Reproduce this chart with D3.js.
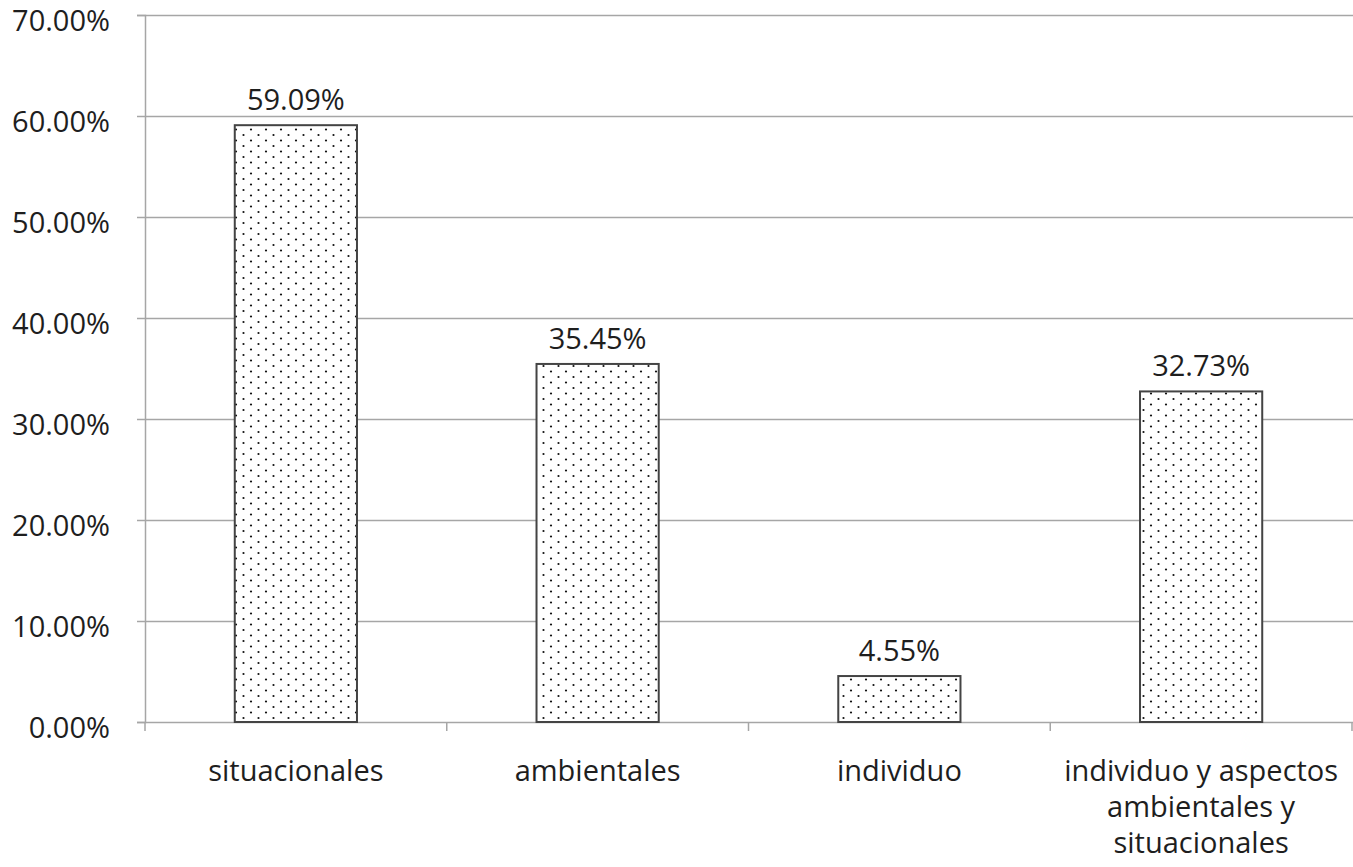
<!DOCTYPE html>
<html>
<head>
<meta charset="utf-8">
<script src="https://cdn.jsdelivr.net/npm/d3@7"></script>
<style>
  html, body { margin: 0; padding: 0; background: #fff; }
  svg text { font-family: "Open Sans", "Noto Sans", sans-serif; fill: #1e1e1e; }
</style>
</head>
<body>
<svg id="chart" width="1353" height="867"></svg>
<script>
// Category labels (line breaks mark wrapped labels)
const categories = ["situacionales", "ambientales", "individuo", "individuo y aspectos\nambientales y\nsituacionales"];
// Share of cases per category, in percent
const values = [59.09, 35.45, 4.55, 32.73];
// Y axis ticks, in percent
const yTicks = [0, 10, 20, 30, 40, 50, 60, 70];

const svg = d3.select("#chart");
const margin = { left: 145, right: 1, top: 15, bottom: 145 };
const W = 1353, H = 867;
const FONT = "29px";

const x = d3.scaleBand()
  .domain(categories)
  .range([margin.left, W - margin.right])
  .paddingInner(0.595)
  .paddingOuter(0.2975);

const y = d3.scaleLinear()
  .domain([0, 70])
  .range([H - margin.bottom, margin.top]);

// Dotted fill pattern for bars
const defs = svg.append("defs");
const pat = defs.append("pattern")
  .attr("id", "dots")
  .attr("patternUnits", "userSpaceOnUse")
  .attr("width", 15).attr("height", 11);
pat.append("rect").attr("width", 15).attr("height", 11).attr("fill", "#fff");
pat.append("circle").attr("cx", 3.5).attr("cy", 3).attr("r", 1.1).attr("fill", "#111");
pat.append("circle").attr("cx", 11).attr("cy", 8.5).attr("r", 1.1).attr("fill", "#111");

// Horizontal gridlines
svg.append("g")
  .selectAll("line")
  .data(yTicks.filter(d => d > 0))
  .join("line")
  .attr("x1", margin.left).attr("x2", W)
  .attr("y1", d => y(d) + 0.5).attr("y2", d => y(d) + 0.5)
  .attr("stroke", "#a6a6a6").attr("stroke-width", 1.5);

// Y axis
const yAxis = d3.axisLeft(y)
  .tickValues(yTicks)
  .tickSize(8)
  .tickPadding(27)
  .tickFormat(d => d.toFixed(2) + "%");
const gy = svg.append("g")
  .attr("transform", `translate(${margin.left},0)`)
  .call(yAxis);
gy.select(".domain").attr("stroke", "#a6a6a6").attr("stroke-width", 1.5);
gy.selectAll(".tick line").attr("stroke", "#a6a6a6").attr("stroke-width", 1.5);
gy.selectAll(".tick text")
  .attr("dy", "0.55em")
  .style("font-size", FONT)
  .style("font-family", "'Open Sans', 'Noto Sans', sans-serif")
  .attr("fill", "#1e1e1e");

// X axis baseline with ticks between categories
const bandEdges = categories.map(c => x(c) - (x.step() - x.bandwidth()) / 2);
bandEdges.push(W - margin.right);
svg.append("line")
  .attr("x1", margin.left).attr("x2", W)
  .attr("y1", y(0) + 0.5).attr("y2", y(0) + 0.5)
  .attr("stroke", "#a6a6a6").attr("stroke-width", 1.5);
svg.append("g")
  .selectAll("line")
  .data(bandEdges)
  .join("line")
  .attr("x1", d => d).attr("x2", d => d)
  .attr("y1", y(0)).attr("y2", y(0) + 9)
  .attr("stroke", "#a6a6a6").attr("stroke-width", 1.5);

// Bars
svg.append("g")
  .selectAll("rect")
  .data(categories)
  .join("rect")
  .attr("x", c => x(c))
  .attr("width", x.bandwidth())
  .attr("y", (c, i) => y(values[i]))
  .attr("height", (c, i) => y(0) - y(values[i]))
  .attr("fill", "url(#dots)")
  .attr("stroke", "#444")
  .attr("stroke-width", 2);

// Value labels
svg.append("g")
  .selectAll("text")
  .data(categories)
  .join("text")
  .attr("x", c => x(c) + x.bandwidth() / 2)
  .attr("y", (c, i) => y(values[i]) - 15)
  .attr("text-anchor", "middle")
  .style("font-size", FONT)
  .text((c, i) => values[i].toFixed(2) + "%");

// Category labels
const catG = svg.append("g");
categories.forEach(c => {
  const t = catG.append("text")
    .attr("x", x(c) + x.bandwidth() / 2)
    .attr("y", 781)
    .attr("text-anchor", "middle")
    .style("font-size", FONT);
  c.split("\n").forEach((line, i) => {
    t.append("tspan")
      .attr("x", x(c) + x.bandwidth() / 2)
      .attr("dy", i === 0 ? 0 : 36)
      .text(line);
  });
});
</script>
</body>
</html>
